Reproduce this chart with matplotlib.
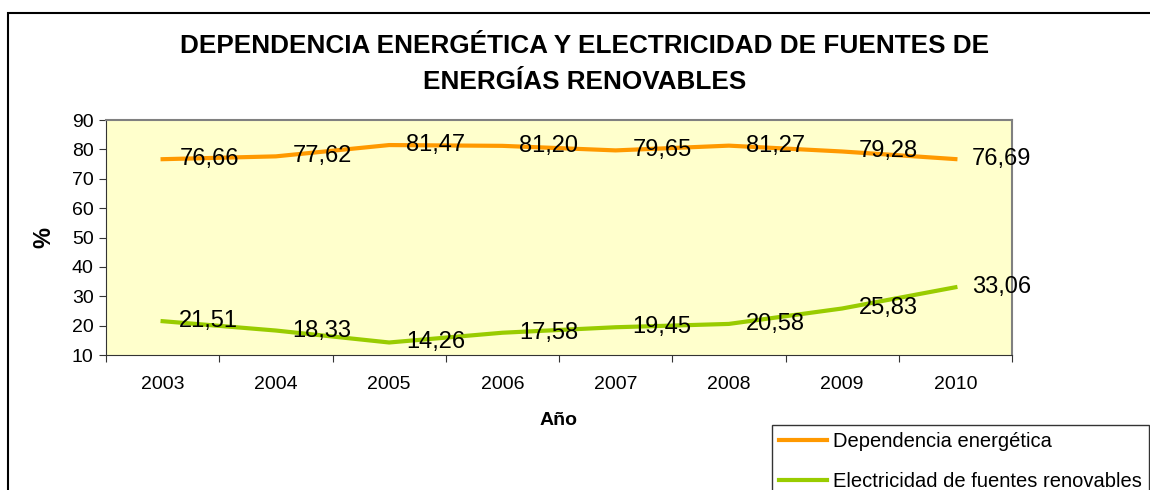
import matplotlib.pyplot as plt
from matplotlib.patches import Rectangle

plt.rcParams['font.family'] = ['Liberation Sans', 'DejaVu Sans']

years = ['2003', '2004', '2005', '2006', '2007', '2008', '2009', '2010']
dependencia = [76.66, 77.62, 81.47, 81.20, 79.65, 81.27, 79.28, 76.69]
renovables = [21.51, 18.33, 14.26, 17.58, 19.45, 20.58, 25.83, 33.06]
labels_dep = ['76,66', '77,62', '81,47', '81,20', '79,65', '81,27', '79,28', '76,69']
labels_ren = ['21,51', '18,33', '14,26', '17,58', '19,45', '20,58', '25,83', '33,06']

fig = plt.figure(figsize=(11.5, 4.9), dpi=100)
# outer chart frame, clipped at right and bottom
fig.patches.append(Rectangle((8 / 1150, -0.5), 2, 1.5 - 13 / 490, transform=fig.transFigure,
                             fill=False, edgecolor='black', linewidth=1.5))

ax = fig.add_axes([106 / 1150, 1 - 355 / 490, 906 / 1150, 235 / 490])
ax.set_facecolor('#FFFFCC')

x = range(len(years))
ax.plot(x, dependencia, color='#FF9900', linewidth=3, label='Dependencia energética')
ax.plot(x, renovables, color='#99CC00', linewidth=3, label='Electricidad de fuentes renovables')

for i in x:
    ax.annotate(labels_dep[i], (i, dependencia[i]), xytext=(12, 0), textcoords='offset points',
                ha='left', va='center', fontsize=17)
    ax.annotate(labels_ren[i], (i, renovables[i]), xytext=(12, 0), textcoords='offset points',
                ha='left', va='center', fontsize=17)

ax.set_xlim(-0.5, len(years) - 0.5)
ax.set_ylim(10, 90)
ax.set_yticks(range(10, 91, 10))
ax.set_xticks([i - 0.5 for i in range(len(years) + 1)])
ax.set_xticklabels([])
ax.set_xticks(list(x), minor=True)
ax.set_xticklabels(years, minor=True)
ax.tick_params(axis='x', which='major', length=5, direction='out', color='#333333')
ax.tick_params(axis='x', which='minor', length=0, pad=15, labelsize=14)
ax.tick_params(axis='y', length=5, direction='out', pad=4, labelsize=14, color='#333333')

for s in ['top', 'right']:
    ax.spines[s].set_color('#808080')
    ax.spines[s].set_linewidth(1.5)
for s in ['left', 'bottom']:
    ax.spines[s].set_color('#333333')

ax.set_ylabel('%', fontsize=17, fontweight='bold', labelpad=12)
ax.set_xlabel('Año', fontsize=14, fontweight='bold', labelpad=14)

fig.text(0.508, 1 - 64 / 490, 'DEPENDENCIA ENERGÉTICA Y ELECTRICIDAD DE FUENTES DE\nENERGÍAS RENOVABLES',
         ha='center', va='center', fontsize=18.8, fontweight='bold', linespacing=1.6)

leg = fig.legend(loc='upper left', bbox_to_anchor=(772 / 1150, 1 - 425 / 490), fontsize=14.5,
                 frameon=True, fancybox=False, edgecolor='black', handlelength=2.4,
                 handletextpad=0.3, borderaxespad=0, labelspacing=1.05, borderpad=0.35)
leg.get_frame().set_linewidth(1)

fig.savefig('out.png', dpi=100)
